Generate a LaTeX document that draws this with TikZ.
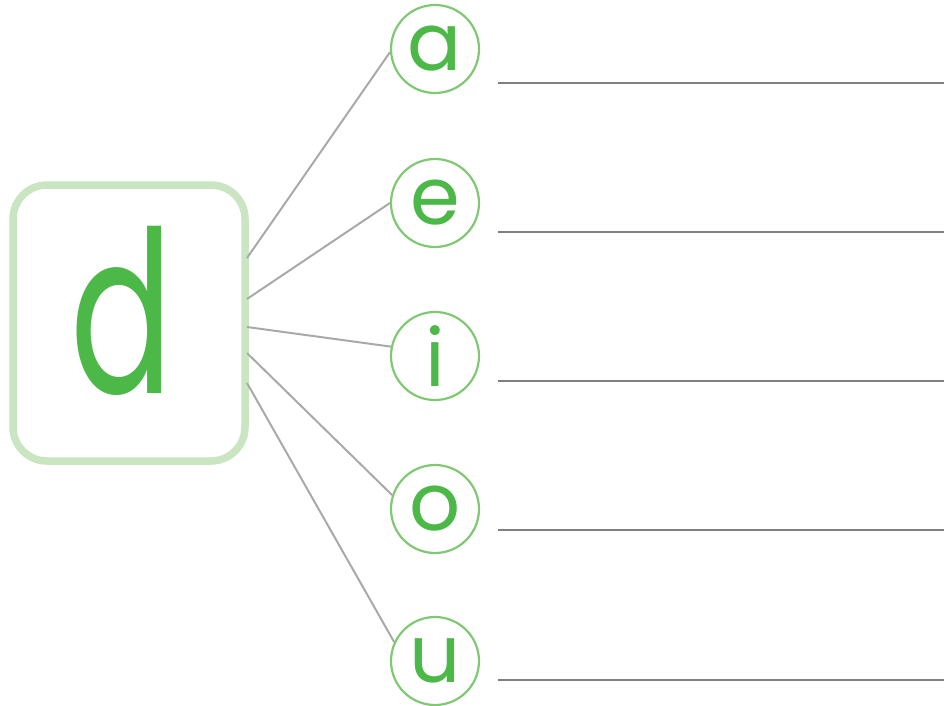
\documentclass[tikz,border=0pt]{standalone}
\usepackage{fontspec}
\setmainfont{Poppins}
\definecolor{lettergreen}{HTML}{4CB848}
\definecolor{boxgreen}{HTML}{C9E5C1}
\definecolor{ringgreen}{HTML}{80C874}
\definecolor{linkgray}{HTML}{A9A9A9}
\definecolor{rulegray}{HTML}{808080}
\tikzset{
  letterbox/.style={draw=boxgreen, line width=7.5pt, rounded corners=34pt, rectangle, minimum width=232pt, minimum height=276pt, inner sep=0pt},
  bigletter/.style={text=lettergreen, inner sep=0pt, font=\fontsize{190}{190}\selectfont},
  ring/.style={circle, draw=ringgreen, line width=2.2pt, minimum size=88pt, inner sep=0pt},
  vowel/.style={text=lettergreen, inner sep=0pt, font=\fontsize{80}{80}\selectfont},
  link/.style={draw=linkgray, line width=2pt},
  answerline/.style={draw=rulegray, line width=2.5pt},
}
\begin{document}
\begin{tikzpicture}[x=1pt,y=-1pt]
\useasboundingbox (0,0) rectangle (944,705);
\node[letterbox] (box) at (129,323) {};
\node[bigletter] (d) at (122,310.5) {\scalebox{0.8}[1.19]{d}};
\foreach \n/\l/\y in {a/a/49, e/e/203, i/i/356, o/o/509, u/u/661}{
  \node[ring] (\n) at (435,\y) {};
  \node[vowel] (\n t) at (435,\y) {\l};
}
\coordinate (sa) at (247,258);
\coordinate (se) at (247,299);
\coordinate (si) at (247,327);
\coordinate (so) at (247,353);
\coordinate (su) at (247,383);
\draw[link] (sa) -- (a.184);
\draw[link] (se) -- (e.180);
\draw[link] (si) -- (i.168);
\draw[link] (so) -- (o.162);
\draw[link] (su) -- (u.155);
\foreach \n/\y in {a/83, e/232, i/381, o/530, u/680}{
  \coordinate (l\n) at (498,\y);
  \coordinate (r\n) at (944,\y);
  \draw[answerline] (l\n) -- (r\n);
}
\end{tikzpicture}
\end{document}
